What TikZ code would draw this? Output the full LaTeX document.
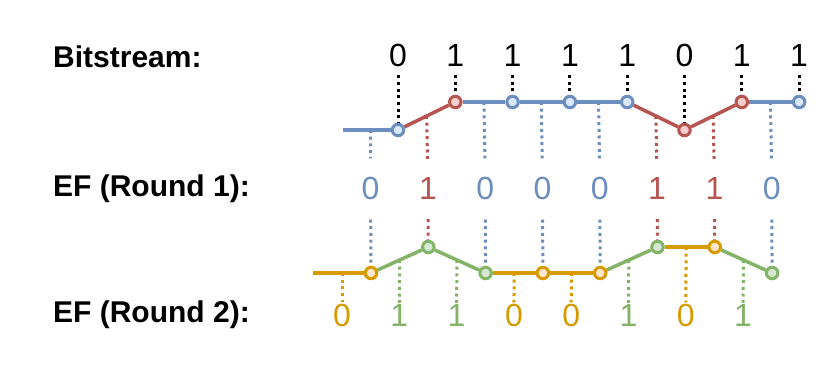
\documentclass[tikz,border=0pt]{standalone}
\usepackage{fontspec}
\setmainfont{Liberation Sans}
\usepackage{xcolor}
\usepackage{tikz}
\usetikzlibrary{calc,backgrounds}
\definecolor{efblue}{HTML}{6C8EBF}
\definecolor{efbluefill}{HTML}{DAE8FC}
\definecolor{efred}{HTML}{B85450}
\definecolor{efredfill}{HTML}{F8CECC}
\definecolor{efgreen}{HTML}{82B366}
\definecolor{efgreenfill}{HTML}{D5E8D4}
\definecolor{eforange}{HTML}{D79B00}
\definecolor{eforangefill}{HTML}{FFE6CC}

\begin{document}
\begin{tikzpicture}[
  x=1pt, y=-1pt,
  lbl/.style={font=\fontsize{30}{36}\selectfont\bfseries, anchor=base west, inner sep=0pt},
  bit/.style={font=\fontsize{32}{38}\selectfont, anchor=base, inner sep=0pt},
  dot/.style={circle, draw=#1, fill=#1fill, line width=3pt, minimum size=11.5pt, inner sep=0pt},
  lvl/.style={draw=#1, line width=3.5pt},
  tick/.style={draw=#1, line width=3pt, dash pattern=on 3pt off 3.7pt},
]
\useasboundingbox (0,0) rectangle (831,378);

% row labels
\node[lbl] (l1) at (53,67.7) {Bitstream:};
\node[lbl] (l2) at (53,196) {EF (Round 1):};
\node[lbl] (l3) at (53,322) {EF (Round 2):};

% bitstream
\node[bit] (b0) at (398,66.7) {0};
\node[bit] (b1) at (455.3,66.7) {1};
\node[bit] (b2) at (512.6,66.7) {1};
\node[bit] (b3) at (569.9,66.7) {1};
\node[bit] (b4) at (627.2,66.7) {1};
\node[bit] (b5) at (684.5,66.7) {0};
\node[bit] (b6) at (741.8,66.7) {1};
\node[bit] (b7) at (799.1,66.7) {1};

\coordinate (s0) at (343,130);
\node[dot=efblue] (p0) at (398,130) {};
\node[dot=efred] (p1) at (455.3,102) {};
\node[dot=efblue] (p2) at (512.6,102) {};
\node[dot=efblue] (p3) at (569.9,102) {};
\node[dot=efblue] (p4) at (627.2,102) {};
\node[dot=efred] (p5) at (684.5,130) {};
\node[dot=efred] (p6) at (741.8,102) {};
\node[dot=efblue] (p7) at (799.1,102) {};

% round 1
\node[bit, text=efblue] (e0) at (370.6,199) {0};
\node[bit, text=efred] (e1) at (427.9,199) {1};
\node[bit, text=efblue] (e2) at (485.2,199) {0};
\node[bit, text=efblue] (e3) at (542.5,199) {0};
\node[bit, text=efblue] (e4) at (599.8,199) {0};
\node[bit, text=efred] (e5) at (657.1,199) {1};
\node[bit, text=efred] (e6) at (714.4,199) {1};
\node[bit, text=efblue] (e7) at (771.7,199) {0};

% round 2
\coordinate (s1) at (313,273);
\node[dot=eforange] (q0) at (371,273) {};
\node[dot=efgreen] (q1) at (428.3,247) {};
\node[dot=efgreen] (q2) at (485.6,273) {};
\node[dot=eforange] (q3) at (542.9,273) {};
\node[dot=eforange] (q4) at (600.2,273) {};
\node[dot=efgreen] (q5) at (657.5,247) {};
\node[dot=eforange] (q6) at (714.8,247) {};
\node[dot=efgreen] (q7) at (772.1,273) {};

\node[bit, text=eforange] (f0) at (342,326) {0};
\node[bit, text=efgreen] (f1) at (399.3,326) {1};
\node[bit, text=efgreen] (f2) at (456.6,326) {1};
\node[bit, text=eforange] (f3) at (513.9,326) {0};
\node[bit, text=eforange] (f4) at (571.2,326) {0};
\node[bit, text=efgreen] (f5) at (628.5,326) {1};
\node[bit, text=eforange] (f6) at (685.8,326) {0};
\node[bit, text=efgreen] (f7) at (743.1,326) {1};

\begin{scope}[on background layer]
% bit ticks
\draw[tick=black, shorten <=8pt] (b0.south) -- (p0);
\draw[tick=black, shorten <=8pt] (b1.south) -- (p1);
\draw[tick=black, shorten <=8pt] (b2.south) -- (p2);
\draw[tick=black, shorten <=8pt] (b3.south) -- (p3);
\draw[tick=black, shorten <=8pt] (b4.south) -- (p4);
\draw[tick=black, shorten <=8pt] (b5.south) -- (p5);
\draw[tick=black, shorten <=8pt] (b6.south) -- (p6);
\draw[tick=black, shorten <=8pt] (b7.south) -- (p7);
% round 1 ticks
\draw[tick=efblue, shorten >=18pt] ($(s0)!0.5!(p0)$) -- (e0.north);
\draw[tick=efred, shorten >=18pt] ($(p0)!0.5!(p1)$) -- (e1.north);
\draw[tick=efblue, shorten >=18pt] ($(p1)!0.5!(p2)$) -- (e2.north);
\draw[tick=efblue, shorten >=18pt] ($(p2)!0.5!(p3)$) -- (e3.north);
\draw[tick=efblue, shorten >=18pt] ($(p3)!0.5!(p4)$) -- (e4.north);
\draw[tick=efred, shorten >=18pt] ($(p4)!0.5!(p5)$) -- (e5.north);
\draw[tick=efred, shorten >=18pt] ($(p5)!0.5!(p6)$) -- (e6.north);
\draw[tick=efblue, shorten >=18pt] ($(p6)!0.5!(p7)$) -- (e7.north);
\draw[tick=efblue, shorten <=20pt] (e0.south) -- (q0);
\draw[tick=efred, shorten <=20pt] (e1.south) -- (q1);
\draw[tick=efblue, shorten <=20pt] (e2.south) -- (q2);
\draw[tick=efblue, shorten <=20pt] (e3.south) -- (q3);
\draw[tick=efblue, shorten <=20pt] (e4.south) -- (q4);
\draw[tick=efred, shorten <=20pt] (e5.south) -- (q5);
\draw[tick=efred, shorten <=20pt] (e6.south) -- (q6);
\draw[tick=efblue, shorten <=20pt] (e7.south) -- (q7);
% round 2 ticks
\draw[tick=eforange, shorten >=1pt] ($(s1)!0.5!(q0)$) -- (f0.north);
\draw[tick=efgreen, shorten >=1pt] ($(q0)!0.5!(q1)$) -- (f1.north);
\draw[tick=efgreen, shorten >=1pt] ($(q1)!0.5!(q2)$) -- (f2.north);
\draw[tick=eforange, shorten >=1pt] ($(q2)!0.5!(q3)$) -- (f3.north);
\draw[tick=eforange, shorten >=1pt] ($(q3)!0.5!(q4)$) -- (f4.north);
\draw[tick=efgreen, shorten >=1pt] ($(q4)!0.5!(q5)$) -- (f5.north);
\draw[tick=eforange, shorten >=1pt] ($(q5)!0.5!(q6)$) -- (f6.north);
\draw[tick=efgreen, shorten >=1pt] ($(q6)!0.5!(q7)$) -- (f7.north);
% levels
\draw[lvl=efblue] (s0) -- (p0);
\draw[lvl=efred] (p0) -- (p1);
\draw[lvl=efblue] (p1) -- (p2);
\draw[lvl=efblue] (p2) -- (p3);
\draw[lvl=efblue] (p3) -- (p4);
\draw[lvl=efred] (p4) -- (p5);
\draw[lvl=efred] (p5) -- (p6);
\draw[lvl=efblue] (p6) -- (p7);
\draw[lvl=eforange] (s1) -- (q0);
\draw[lvl=efgreen] (q0) -- (q1);
\draw[lvl=efgreen] (q1) -- (q2);
\draw[lvl=eforange] (q2) -- (q3);
\draw[lvl=eforange] (q3) -- (q4);
\draw[lvl=efgreen] (q4) -- (q5);
\draw[lvl=eforange] (q5) -- (q6);
\draw[lvl=efgreen] (q6) -- (q7);
\end{scope}
\end{tikzpicture}
\end{document}
